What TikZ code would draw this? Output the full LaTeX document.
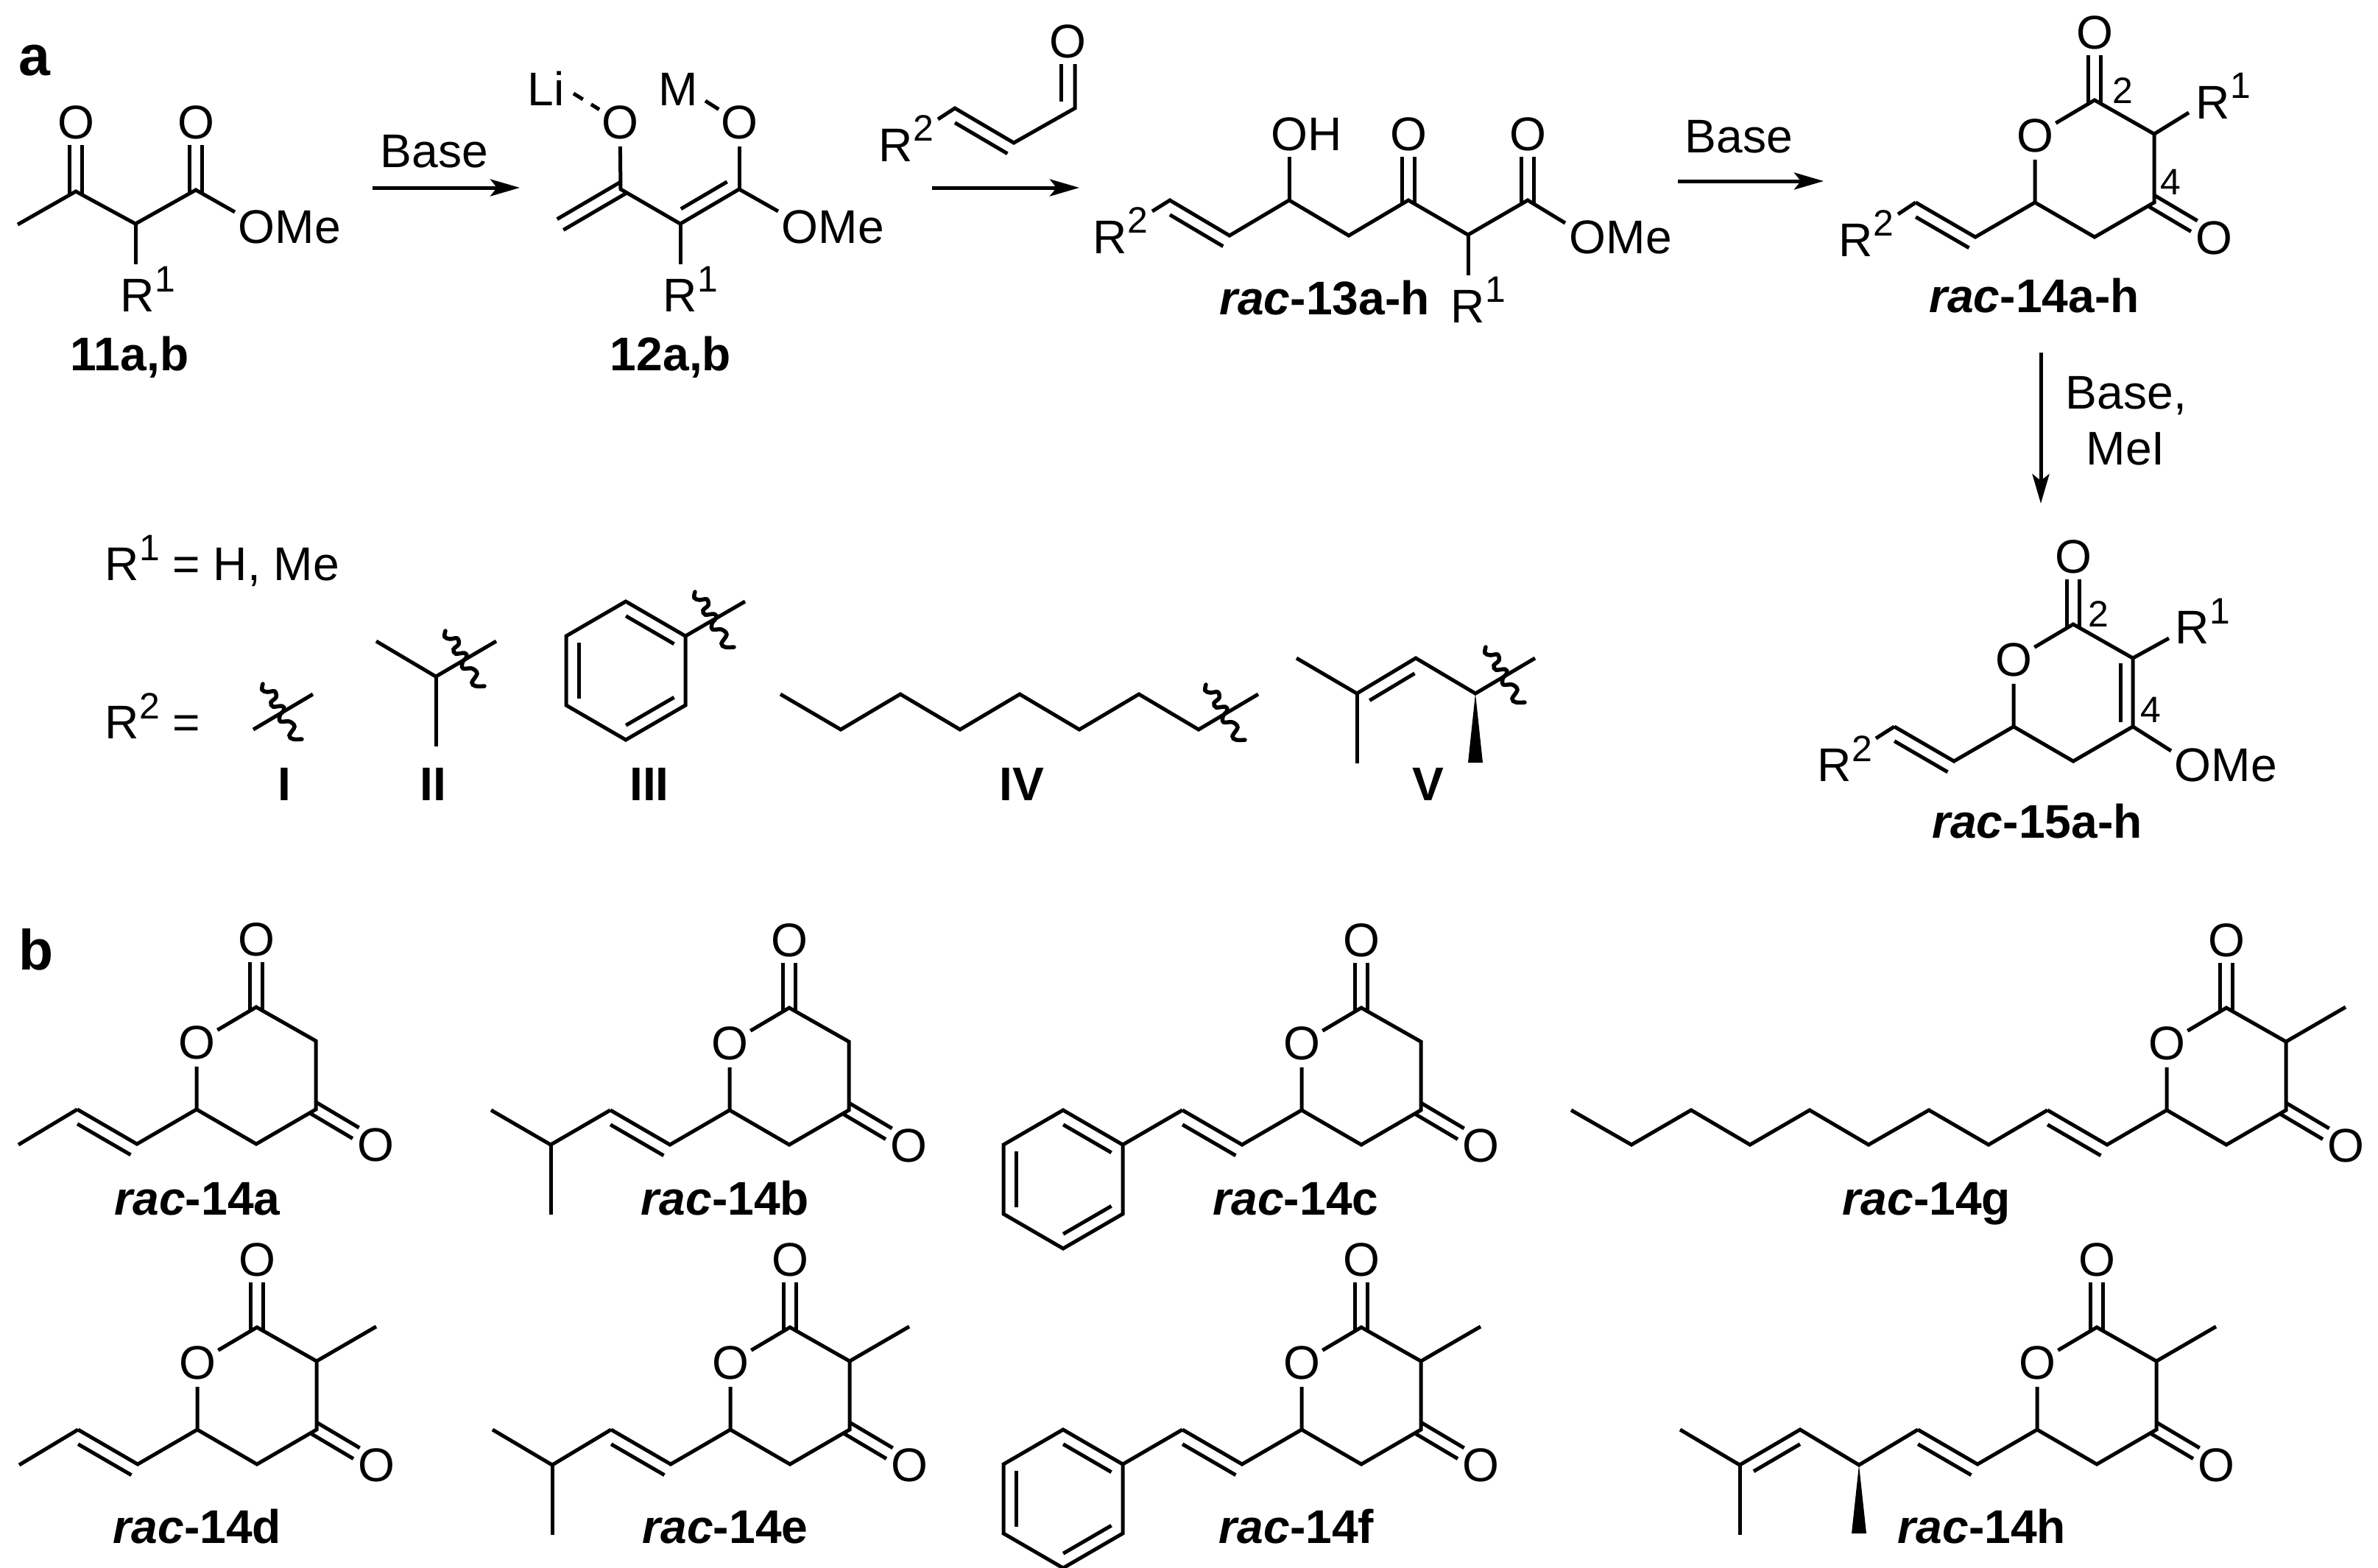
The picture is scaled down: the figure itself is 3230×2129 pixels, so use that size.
\documentclass[tikz,border=0pt]{standalone}
\usepackage{fontspec}
\setmainfont{Liberation Sans}
\usetikzlibrary{arrows.meta,calc}

\newcommand{\chemfont}{\fontsize{18.25}{20}\selectfont}
\newcommand{\numfont}{\fontsize{14.2}{15}\selectfont}
\newcommand{\Rn}[1]{R\raisebox{0.27cm}{\numfont #1}}
\newcommand{\rac}[1]{\textit{rac}-#1}

\tikzset{
    bond/.style={line width=0.05cm},
    arw/.style={line width=0.05cm,-{Stealth[length=0.4cm,width=0.23cm,inset=0.09cm]}},
    wavy/.style={line width=0.055cm,line cap=round},
    atom/.style={circle,inner sep=-0.3pt,font=\chemfont},
    lbl/.style={anchor=base west,inner sep=0pt,font=\chemfont},
    ctr/.style={anchor=base,inner sep=0pt,font=\chemfont},
    num/.style={anchor=base,inner sep=0pt,font=\numfont},
    capt/.style={anchor=base,inner sep=0pt,font=\chemfont\bfseries},
    panel/.style={anchor=base west,inner sep=0pt,font=\fontsize{21.9}{24}\selectfont\bfseries}
}

% second line of a double bond, on the left of a->b, with both ends cut back
\newcommand{\innerbond}[4]{
    \draw[bond,shorten <=#3,shorten >=#4] ($(#1)!0.17cm!90:(#2)$) -- ($(#2)!0.17cm!-90:(#1)$);
}
% two lines either side of a->b
\newcommand{\dblbond}[3]{
    \draw[bond,shorten <=-0.04cm,shorten >=#3] ($(#1)!0.085cm!90:(#2)$) -- ($(#2)!0.085cm!-90:(#1)$);
    \draw[bond,shorten <=-0.04cm,shorten >=#3] ($(#1)!0.085cm!-90:(#2)$) -- ($(#2)!0.085cm!90:(#1)$);
}
\newcommand{\squig}[1]{
    \draw[wavy,shift={(#1)}] plot[smooth,tension=0.6] coordinates {(-26,-38) (-27,-30) (-20,-27) (-10,-28) (-8,-20) (-15,-13) (-12,-7) (0,-8) (3,-3) (-3,5) (-2,13) (10,13) (17,20) (10,32) (15,37) (27,37)};
}
% ring and alkenyl arm, (x,y) is the carbon next to the ring oxygen
\newcommand{\pyranring}[3]{
    \begin{scope}[shift={(#2,#3)},name prefix=#1-]
        \coordinate (c6) at (0,0);
        \coordinate (c2) at (81,-139);
        \coordinate (c3) at (162,-93);
        \coordinate (c4) at (162,0);
        \coordinate (c5) at (81,47);
        \coordinate (va) at (-81,47);
        \coordinate (vb) at (-162,0);
        \node[atom] (o1) at (0,-91) {O};
        \node[atom] (o2) at (81,-231) {O};
        \draw[bond] (vb) -- (va) -- (c6) -- (c5) -- (c4) -- (c3) -- (c2) -- (o1) -- (c6);
        \dblbond{c2}{o2}{0.31cm}
        \innerbond{va}{vb}{0cm}{0.1cm}
    \end{scope}
}
\newcommand{\lactone}[3]{
    \pyranring{#1}{#2}{#3}
    \begin{scope}[shift={(#2,#3)},name prefix=#1-]
        \node[atom] (o4) at (243,48) {O};
        \dblbond{c4}{o4}{0.31cm}
    \end{scope}
}
\newcommand{\methyl}[1]{
    \coordinate (#1-me) at ($(#1-c3)+(81,-47)$);
    \draw[bond] (#1-c3) -- (#1-me);
}
\newcommand{\benzene}[3]{
    \begin{scope}[shift={(#2,#3)},name prefix=#1-]
        \coordinate (t) at (0,0);
        \coordinate (ur) at (81,47);
        \coordinate (lr) at (81,141);
        \coordinate (b) at (0,188);
        \coordinate (ll) at (-81,141);
        \coordinate (ul) at (-81,47);
        \draw[bond] (t) -- (ur) -- (lr) -- (b) -- (ll) -- (ul) -- cycle;
        \innerbond{ur}{t}{0.08cm}{0.1cm}
        \innerbond{ul}{ll}{0.09cm}{0.09cm}
        \innerbond{b}{lr}{0.1cm}{0.08cm}
    \end{scope}
}

\begin{document}
\begin{tikzpicture}[x=0.01cm,y=-0.01cm]
    \useasboundingbox (0,0) rectangle (3230,2129);

    \node[panel] (pa) at (25,102) {a};
    \node[panel] (pb) at (25,1317) {b};

    % 11a,b
    \coordinate (k-me) at (24,305);
    \coordinate (k-c1) at (103,260);
    \coordinate (k-ch) at (184,304);
    \coordinate (k-c2) at (266,258);
    \coordinate (k-ob) at (319,288);
    \coordinate (k-rb) at (184,359);
    \node[atom] (k-o1) at (103,166) {O};
    \node[atom] (k-o2) at (266,166) {O};
    \node[lbl] (k-ome) at (323,330) {OMe};
    \node[lbl] (k-r) at (163,423) {\Rn{1}};
    \node[capt] (k-name) at (176,503) {11a,b};
    \draw[bond] (k-me) -- (k-c1) -- (k-ch) -- (k-c2) -- (k-ob);
    \draw[bond] (k-ch) -- (k-rb);
    \dblbond{k-c1}{k-o1}{0.31cm}
    \dblbond{k-c2}{k-o2}{0.31cm}

    % first arrow
    \coordinate (ar1s) at (506,255);
    \coordinate (ar1e) at (706,255);
    \draw[arw] (ar1s) -- (ar1e);
    \node[ctr] (ar1t) at (590,227) {Base};

    % 12a,b
    \coordinate (e-ch2) at (761,305);
    \coordinate (e-c1) at (843,257);
    \coordinate (e-ch) at (924,304);
    \coordinate (e-c2) at (1004,257);
    \coordinate (e-ob) at (1057,287);
    \coordinate (e-rb) at (924,359);
    \coordinate (e-lib) at (779,127);
    \coordinate (e-mb) at (958,137);
    \node[atom] (e-o1) at (842,166) {O};
    \node[atom] (e-o2) at (1004,166) {O};
    \node[lbl] (e-li) at (716,143) {Li};
    \node[lbl] (e-m) at (894,143) {M};
    \node[lbl] (e-ome) at (1061,330) {OMe};
    \node[lbl] (e-r) at (900,423) {\Rn{1}};
    \node[capt] (e-name) at (911,503) {12a,b};
    \draw[bond] (e-o1) -- (e-c1) -- (e-ch) -- (e-c2) -- (e-ob);
    \draw[bond] (e-c2) -- (e-o2);
    \draw[bond] (e-ch) -- (e-rb);
    \draw[bond,dash pattern=on 0.15cm off 0.13cm] (e-lib) -- (e-o1);
    \draw[bond] (e-mb) -- (e-o2);
    \dblbond{e-c1}{e-ch2}{0cm}
    \innerbond{e-ch}{e-c2}{0.11cm}{0.09cm}

    % aldehyde over the second arrow
    \coordinate (d-rb) at (1274,162);
    \coordinate (d-c1) at (1297,147);
    \coordinate (d-c2) at (1377,194);
    \coordinate (d-c3) at (1460,147);
    \coordinate (d-t1) at (1460,87);
    \coordinate (d-t2) at (1441,87);
    \coordinate (d-t3) at (1441,138);
    \node[atom] (d-o) at (1450,56) {O};
    \node[lbl] (d-r) at (1193,219) {\Rn{2}};
    \draw[bond] (d-rb) -- (d-c1) -- (d-c2) -- (d-c3) -- (d-t1);
    \draw[bond] (d-t2) -- (d-t3);
    \innerbond{d-c2}{d-c1}{0cm}{0.1cm}
    \coordinate (ar2s) at (1266,255);
    \coordinate (ar2e) at (1466,255);
    \draw[arw] (ar2s) -- (ar2e);

    % rac-13a-h
    \coordinate (h-rb) at (1565,287);
    \coordinate (h-c1) at (1589,272);
    \coordinate (h-c2) at (1670,320);
    \coordinate (h-c3) at (1751,272);
    \coordinate (h-c4) at (1832,320);
    \coordinate (h-c5) at (1913,272);
    \coordinate (h-c6) at (1994,319);
    \coordinate (h-c7) at (2075,272);
    \coordinate (h-ob) at (2126,303);
    \coordinate (h-hb) at (1751,213);
    \coordinate (h-r1b) at (1994,374);
    \node[atom] (h-o5) at (1913,182) {O};
    \node[atom] (h-o7) at (2075,182) {O};
    \node[lbl] (h-oh) at (1726,204) {OH};
    \node[lbl] (h-ome) at (2131,344) {OMe};
    \node[lbl] (h-r2) at (1484,344) {\Rn{2}};
    \node[lbl] (h-r1) at (1970,438) {\Rn{1}};
    \node[capt] (h-name) at (1799,427) {\rac{13a-h}};
    \draw[bond] (h-rb) -- (h-c1) -- (h-c2) -- (h-c3) -- (h-c4) -- (h-c5) -- (h-c6) -- (h-c7) -- (h-ob);
    \draw[bond] (h-c3) -- (h-hb);
    \draw[bond] (h-c6) -- (h-r1b);
    \dblbond{h-c5}{h-o5}{0.31cm}
    \dblbond{h-c7}{h-o7}{0.31cm}
    \innerbond{h-c2}{h-c1}{0cm}{0.1cm}

    % third arrow
    \coordinate (ar3s) at (2279,246);
    \coordinate (ar3e) at (2477,246);
    \draw[arw] (ar3s) -- (ar3e);
    \node[ctr] (ar3t) at (2362,207) {Base};

    % rac-14a-h
    \lactone{p}{2764}{275}
    \coordinate (p-r2b) at (2578,291);
    \coordinate (p-r1b) at (2973,153);
    \draw[bond] (p-vb) -- (p-r2b);
    \draw[bond] (p-c3) -- (p-r1b);
    \node[lbl] (p-r1) at (2982,161) {\Rn{1}};
    \node[lbl] (p-r2) at (2497,348) {\Rn{2}};
    \node[num] (p-n2) at (2883,140) {2};
    \node[num] (p-n4) at (2948,264) {4};
    \node[capt] (p-name) at (2763,424) {\rac{14a-h}};

    % fourth arrow
    \coordinate (ar4s) at (2772,479);
    \coordinate (ar4e) at (2772,684);
    \draw[arw] (ar4s) -- (ar4e);
    \node[ctr] (ar4a) at (2888,555) {Base,};
    \node[ctr] (ar4b) at (2887,631) {MeI};

    % rac-15a-h
    \pyranring{q}{2735}{987}
    \coordinate (q-r2b) at (2548,1003);
    \coordinate (q-r1b) at (2946,867);
    \coordinate (q-ob) at (2949,1020);
    \draw[bond] (q-vb) -- (q-r2b);
    \draw[bond] (q-c3) -- (q-r1b);
    \draw[bond] (q-c4) -- (q-ob);
    \innerbond{q-c4}{q-c3}{0.06cm}{0.07cm}
    \node[lbl] (q-r1) at (2954,874) {\Rn{1}};
    \node[lbl] (q-r2) at (2468,1061) {\Rn{2}};
    \node[lbl] (q-ome) at (2953,1061) {OMe};
    \node[num] (q-n2) at (2850,851) {2};
    \node[num] (q-n4) at (2921,981) {4};
    \node[capt] (q-name) at (2767,1138) {\rac{15a-h}};

    % substituents
    \node[lbl] (lg1) at (142,788) {\Rn{1} = H, Me};
    \node[lbl] (lg2) at (142,1003) {\Rn{2} =};

    % I
    \coordinate (s1a) at (344,991);
    \coordinate (s1b) at (425,943);
    \coordinate (s1x) at (383,967);
    \draw[bond] (s1a) -- (s1b);
    \squig{s1x}
    \node[capt] (s1n) at (386,1087) {I};

    % II
    \coordinate (s2a) at (511,871);
    \coordinate (s2c) at (592,919);
    \coordinate (s2b) at (674,871);
    \coordinate (s2d) at (592,1014);
    \coordinate (s2x) at (631,895);
    \draw[bond] (s2a) -- (s2c) -- (s2b);
    \draw[bond] (s2c) -- (s2d);
    \squig{s2x}
    \node[capt] (s2n) at (588,1087) {II};

    % III
    \benzene{s3}{850}{817}
    \coordinate (s3e) at (1012,817);
    \coordinate (s3x) at (970,842);
    \draw[bond] (s3-ur) -- (s3e);
    \squig{s3x}
    \node[capt] (s3n) at (882,1087) {III};

    % IV
    \coordinate (s4x) at (1664,968);
    \draw[bond] (1060,943) -- (1142,991) -- (1223,943) -- (1304,991) -- (1385,943) -- (1466,991) -- (1547,943) -- (1628,991) -- (1709,943);
    \squig{s4x}
    \node[capt] (s4n) at (1388,1087) {IV};

    % V
    \coordinate (s5a) at (1761,894);
    \coordinate (s5b) at (1843,942);
    \coordinate (s5c) at (1923,894);
    \coordinate (s5d) at (2004,942);
    \coordinate (s5e) at (2085,894);
    \coordinate (s5f) at (1843,1037);
    \coordinate (s5w) at (2004,1036);
    \coordinate (s5x) at (2044,917);
    \draw[bond] (s5a) -- (s5b) -- (s5c) -- (s5d) -- (s5e);
    \draw[bond] (s5b) -- (s5f);
    \innerbond{s5c}{s5b}{0.12cm}{0.1cm}
    \fill (s5d) -- ($(s5w)+(-10,0)$) -- ($(s5w)+(10,0)$) -- cycle;
    \squig{s5x}
    \node[capt] (s5n) at (1940,1087) {V};

    % rac-14a
    \lactone{14a}{267}{1507}
    \coordinate (14a-end) at (25,1555);
    \draw[bond] (14a-vb) -- (14a-end);
    \node[capt] (14a-name) at (268,1650) {\rac{14a}};

    % rac-14b
    \lactone{14b}{991}{1508}
    \coordinate (14b-ch) at (748,1555);
    \coordinate (14b-m1) at (667,1508);
    \coordinate (14b-m2) at (748,1650);
    \draw[bond] (14b-vb) -- (14b-ch) -- (14b-m1);
    \draw[bond] (14b-ch) -- (14b-m2);
    \node[capt] (14b-name) at (985,1650) {\rac{14b}};

    % rac-14c
    \lactone{14c}{1768}{1508}
    \benzene{14c-ph}{1444}{1508}
    \draw[bond] (14c-vb) -- (14c-ph-ur);
    \node[capt] (14c-name) at (1760,1650) {\rac{14c}};

    % rac-14g
    \lactone{14g}{2943}{1508}
    \methyl{14g}
    \draw[bond] (14g-vb) -- (2701,1555) -- (2620,1508) -- (2538,1555) -- (2458,1508) -- (2377,1555) -- (2297,1508) -- (2216,1555) -- (2134,1508);
    \node[capt] (14g-name) at (2617,1650) {\rac{14g}};

    % rac-14d
    \lactone{14d}{268}{1942}
    \methyl{14d}
    \coordinate (14d-end) at (26,1990);
    \draw[bond] (14d-vb) -- (14d-end);
    \node[capt] (14d-name) at (268,2096) {\rac{14d}};

    % rac-14e
    \lactone{14e}{992}{1942}
    \methyl{14e}
    \coordinate (14e-ch) at (750,1990);
    \coordinate (14e-m1) at (669,1942);
    \coordinate (14e-m2) at (750,2085);
    \draw[bond] (14e-vb) -- (14e-ch) -- (14e-m1);
    \draw[bond] (14e-ch) -- (14e-m2);
    \node[capt] (14e-name) at (985,2096) {\rac{14e}};

    % rac-14f
    \lactone{14f}{1768}{1942}
    \methyl{14f}
    \benzene{14f-ph}{1444}{1942}
    \draw[bond] (14f-vb) -- (14f-ph-ur);
    \node[capt] (14f-name) at (1761,2096) {\rac{14f}};

    % rac-14h
    \lactone{14h}{2767}{1942}
    \methyl{14h}
    \coordinate (14h-c1) at (2525,1990);
    \coordinate (14h-c2) at (2445,1942);
    \coordinate (14h-c3) at (2363,1990);
    \coordinate (14h-m1) at (2282,1942);
    \coordinate (14h-m2) at (2363,2085);
    \coordinate (14h-w) at (2525,2083);
    \draw[bond] (14h-vb) -- (14h-c1) -- (14h-c2) -- (14h-c3) -- (14h-m1);
    \draw[bond] (14h-c3) -- (14h-m2);
    \innerbond{14h-c2}{14h-c3}{0.1cm}{0.12cm}
    \fill (14h-c1) -- ($(14h-w)+(-10,0)$) -- ($(14h-w)+(10,0)$) -- cycle;
    \node[capt] (14h-name) at (2692,2096) {\rac{14h}};
\end{tikzpicture}
\end{document}
